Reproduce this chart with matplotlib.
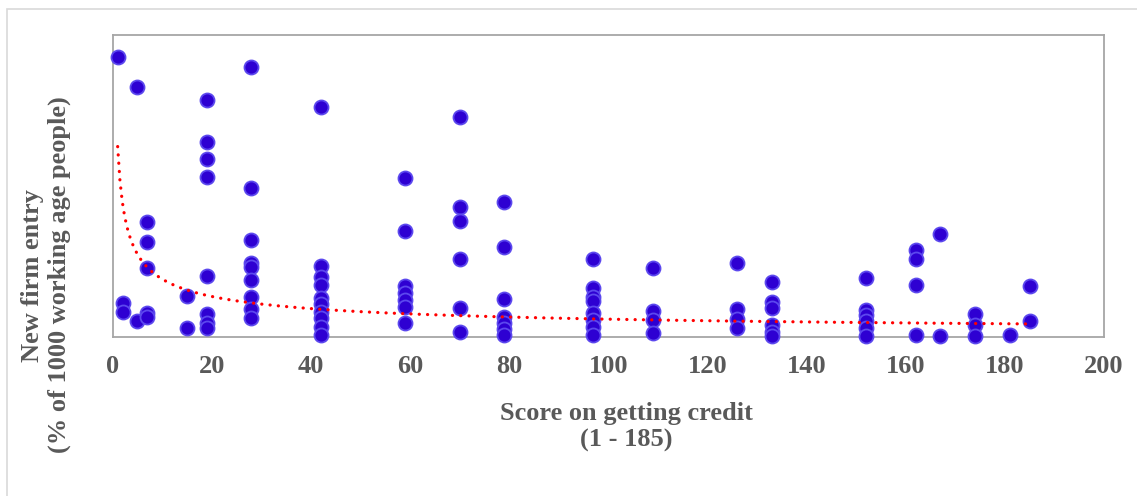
import matplotlib
matplotlib.use("Agg")
import matplotlib.pyplot as plt
import numpy as np
from matplotlib.patches import Rectangle

# ---- data ----
score_x = [1, 5, 5, 2, 2,
           7, 7, 7, 7, 7,
           15, 15,
           19, 19, 19, 19, 19, 19, 19, 19,
           28, 28, 28, 28, 28, 28, 28, 28, 28,
           42, 42, 42, 42, 42, 42, 42, 42, 42, 42,
           59, 59, 59, 59, 59, 59, 59,
           70, 70, 70, 70, 70, 70,
           79, 79, 79, 79, 79, 79, 79,
           97, 97, 97, 97, 97, 97, 97, 97,
           109, 109, 109, 109,
           126, 126, 126, 126,
           133, 133, 133, 133, 133, 133,
           152, 152, 152, 152, 152, 152,
           162, 162, 162, 162,
           167, 167,
           174, 174, 174,
           181,
           185, 185]
entry_y = [13.89, 12.43, 0.77, 1.68, 1.23,
           5.70, 4.70, 3.39, 1.15, 0.96,
           2.03, 0.41,
           11.75, 9.68, 8.83, 7.92, 3.02, 1.12, 0.69, 0.44,
           13.41, 7.37, 4.80, 3.64, 3.44, 2.81, 1.98, 1.35, 0.91,
           11.42, 3.51, 2.98, 2.56, 1.93, 1.62, 1.23, 0.91, 0.49, 0.06,
           7.90, 5.25, 2.51, 2.15, 1.82, 1.48, 0.66,
           10.91, 6.46, 5.75, 3.84, 1.40, 0.22,
           6.69, 4.44, 1.88, 0.96, 0.66, 0.36, 0.07,
           3.84, 2.40, 1.98, 1.78, 1.15, 0.82, 0.49, 0.07,
           3.42, 1.27, 0.82, 0.19,
           3.67, 1.37, 0.87, 0.44,
           2.73, 1.73, 1.40, 0.57, 0.24, 0.02,
           2.93, 1.32, 1.07, 0.79, 0.41, 0.02,
           4.30, 3.84, 2.56, 0.07,
           5.08, 0.02,
           1.12, 0.57, 0.02,
           0.07,
           2.51, 0.79]
# power trend line y = a * x^b
trend_a = 9.45
trend_b = -0.52
trend_x_range = [1, 185]
x_ticks = [0, 20, 40, 60, 80, 100, 120, 140, 160, 180, 200]

W, H = 1137, 496
fig = plt.figure(figsize=(W / 100, H / 100), dpi=100)
serif = ["Liberation Serif", "DejaVu Serif"]
txt_color = "#595959"
fs = 19

# outer chart border
fig.patches.append(Rectangle((7 / W, 1 - 500 / H), (1140 - 7) / W, (500 - 9) / H,
                             transform=fig.transFigure, fill=False,
                             edgecolor="#D9D9D9", linewidth=1.2, zorder=0))

l, r, t, b = 112.7, 1104, 35, 336.5
ax = fig.add_axes([l / W, 1 - b / H, (r - l) / W, (b - t) / H])
ax.set_xlim(0, 200)
ax.set_ylim(0, 15)

ax.scatter(score_x, entry_y, s=102, c="#2E00D2", edgecolors="#5C48EE",
           linewidths=1.3, zorder=3, clip_on=False)

tx = np.linspace(trend_x_range[0], trend_x_range[1], 400)
ax.plot(tx, trend_a * tx ** trend_b, color="#FF0000", linewidth=2.3,
        linestyle=(0, (0.05, 2.55)), dash_capstyle="round", zorder=4)

for s in ax.spines.values():
    s.set_color("#A6A6A6")
    s.set_linewidth(1.3)

ax.set_yticks([])
ax.set_xticks(x_ticks)
ax.set_xticklabels([str(v) for v in x_ticks], family=serif, fontweight="bold",
                   fontsize=fs, color=txt_color)
ax.tick_params(axis="x", length=0, pad=13.5)

fig.text(626 / W, 1 - 427 / H, "Score on getting credit\n(1 - 185)", ha="center",
         va="center", family=serif, fontweight="bold", fontsize=fs,
         color=txt_color, linespacing=1.22)
fig.text(46 / W, 1 - 275 / H, "New firm entry\n(% of 1000 working age people)",
         ha="center", va="center", rotation=90, family=serif, fontweight="bold",
         fontsize=fs, color=txt_color, linespacing=1.22, multialignment="center")

fig.savefig("out.png", dpi=100)
